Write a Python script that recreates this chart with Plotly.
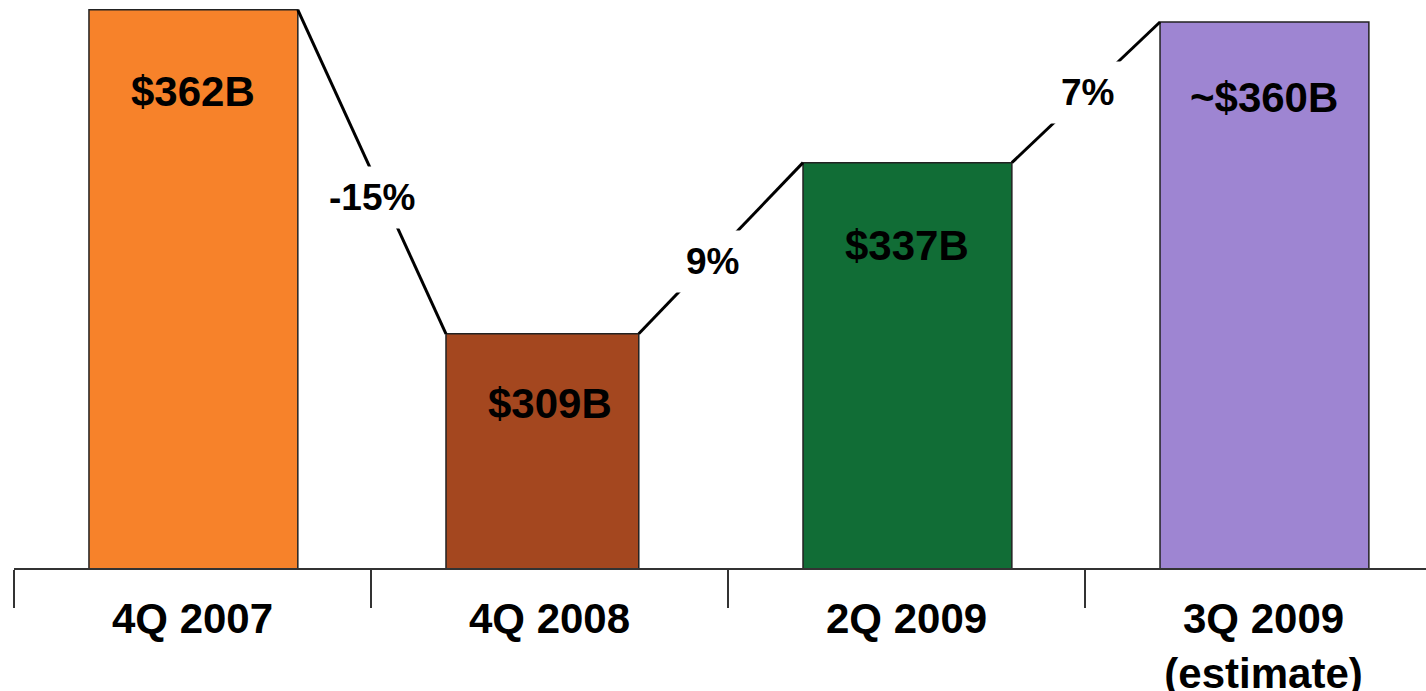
import plotly.graph_objects as go

# Quarterly values, in billions of dollars
categories = ["4Q 2007", "4Q 2008", "2Q 2009", "3Q 2009<br>(estimate)"]
values = [362, 309, 337, 360]
value_prefix = ["", "", "", "~"]

# Styling
bar_colors = ["#F7822A", "#A4471F", "#116D36", "#9E85D2"]
bar_widths = [0.585, 0.54, 0.585, 0.585]
bar_offset = -0.29
label_drop = [82, 70, 83, 75]          # px below each bar top for the value label
pct_xshift = [0, -8, 2]
pct_yshift = [-26, -13, 0]
FONT = "Liberation Sans, Arial, sans-serif"

positions = list(range(len(categories)))
boundaries = [p - 0.5 for p in positions]

fig = go.Figure()

fig.add_trace(go.Bar(
    x=positions,
    y=values,
    width=bar_widths,
    offset=bar_offset,
    marker=dict(color=bar_colors, line=dict(color="#222222", width=1.5)),
    hoverinfo="skip",
))

# Connector lines from each bar's top-right corner to the next bar's top-left corner
cx, cy = [], []
mids = []
for i in range(len(values) - 1):
    x0 = positions[i] + bar_offset + bar_widths[i]
    x1 = positions[i + 1] + bar_offset
    cx += [x0, x1, None]
    cy += [values[i], values[i + 1], None]
    mids.append(((x0 + x1) / 2, (values[i] + values[i + 1]) / 2))

fig.add_trace(go.Scatter(
    x=cx, y=cy, mode="lines",
    line=dict(color="black", width=3),
    hoverinfo="skip",
))

# Percentage change labels, boxed in white so they break the connector
for i, (mx, my) in enumerate(mids):
    pct = round(100 * (values[i + 1] - values[i]) / values[i])
    fig.add_annotation(
        x=mx, y=my, text=f"{pct}%", showarrow=False,
        xshift=pct_xshift[i], yshift=pct_yshift[i],
        bgcolor="white", borderpad=10,
        font=dict(family=FONT, size=37, color="black", weight="bold"),
    )

# Value labels inside the bars
for i, v in enumerate(values):
    fig.add_annotation(
        x=positions[i], y=v, text=f"{value_prefix[i]}${v}B", showarrow=False,
        yanchor="middle", yshift=-label_drop[i],
        font=dict(family=FONT, size=42, color="black", weight="bold"),
    )

fig.update_layout(
    width=1426, height=691,
    margin=dict(l=14, r=0, t=0, b=123),
    paper_bgcolor="white", plot_bgcolor="white",
    showlegend=False,
    xaxis=dict(
        range=[-0.5, 3.455], automargin=False,
        tickmode="array", tickvals=positions, ticktext=categories,
        ticks="", ticklabelstandoff=13,
        tickfont=dict(family=FONT, size=42, color="black", weight="bold"),
        showline=True, linecolor="#333333", linewidth=2,
        showgrid=False, zeroline=False,
        minor=dict(tickmode="array", tickvals=boundaries, ticks="outside",
                   ticklen=38, tickwidth=2, tickcolor="#333333", showgrid=False),
        fixedrange=True,
    ),
    yaxis=dict(range=[270.7, 363.6], visible=False, fixedrange=True,
               automargin=False),
)

fig.write_html("out.html", config={"displayModeBar": False})
